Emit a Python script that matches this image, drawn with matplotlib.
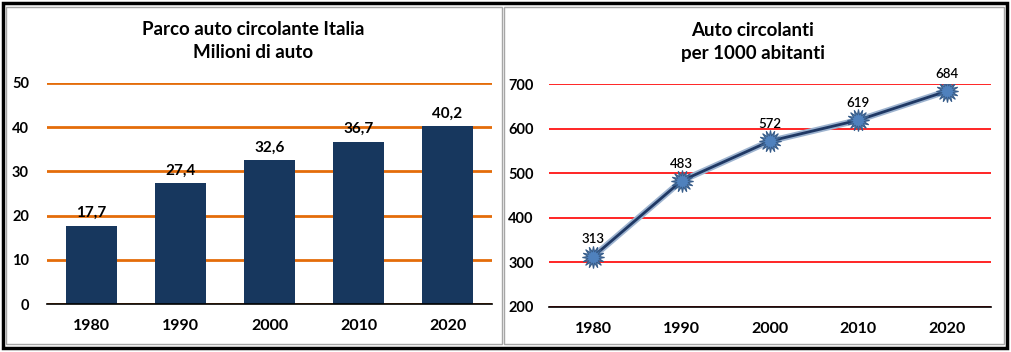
import matplotlib.pyplot as plt
from matplotlib.patches import Rectangle

anni = ["1980", "1990", "2000", "2010", "2020"]
parco_milioni = [17.7, 27.4, 32.6, 36.7, 40.2]
auto_per_1000 = [313, 483, 572, 619, 684]

W, H = 1012, 352
plt.rcParams['font.family'] = ['Lato', 'DejaVu Sans']

fig = plt.figure(figsize=(W / 100, H / 100), dpi=100)
fig.patch.set_facecolor("white")

def px(x0, y0, x1, y1):
    # pixel box (top-left origin) -> figure fraction
    return [x0 / W, 1 - y1 / H, (x1 - x0) / W, (y1 - y0) / H]

# outer black frame and the two grey chart frames
fig.patches.append(Rectangle((3 / W, 1 - 348 / H), 1004 / W, 345 / H, transform=fig.transFigure,
                             fill=False, edgecolor="black", linewidth=2.5))
for x0, x1 in [(6, 502), (504, 1004)]:
    fig.patches.append(Rectangle((x0 / W, 1 - 344 / H), (x1 - x0) / W, 337 / H,
                                 transform=fig.transFigure, fill=False,
                                 edgecolor="#a6a6a6", linewidth=1.0))

# ---- left: bar chart
ax1 = fig.add_axes(px(47, 83, 492, 304))
x = range(len(anni))
ax1.bar(x, parco_milioni, width=0.57, color="#17375e", zorder=3)
ax1.set_ylim(0, 50)
ax1.set_xlim(-0.5, 4.5)
ax1.set_yticks(range(0, 51, 10))
ax1.yaxis.grid(True, color="#e46c0a", linewidth=2, zorder=0)
ax1.set_axisbelow(True)
for s in ["top", "right", "left"]:
    ax1.spines[s].set_visible(False)
ax1.spines["bottom"].set_color("black")
ax1.spines["bottom"].set_linewidth(1.2)
ax1.spines["bottom"].set_zorder(4)
ax1.set_xticks(list(x))
ax1.set_xticklabels(anni, fontsize=11.5, fontweight="bold")
ax1.tick_params(axis="both", length=0)
ax1.tick_params(axis="x", pad=11)
ax1.tick_params(axis="y", pad=13, labelsize=10.5)
for lab in ax1.get_yticklabels():
    lab.set_fontweight("bold")
for i, v in enumerate(parco_milioni):
    ax1.annotate(f"{v:.1f}".replace(".", ","), (i, v), xytext=(0, 4), textcoords="offset points",
                 ha="center", va="bottom", fontsize=11, fontweight="bold", zorder=5)
fig.text(253 / W, 1 - 41 / H, "Parco auto circolante Italia\nMilioni di auto", ha="center", va="center",
         fontsize=13.5, fontweight="bold", linespacing=1.45)

# ---- right: line chart
ax2 = fig.add_axes(px(549, 84, 991, 307))
ax2.plot(list(x), auto_per_1000, color="#9db3cf", linewidth=4.5, zorder=2, solid_capstyle="round")
ax2.plot(list(x), auto_per_1000, color="#1f3864", linewidth=2, zorder=3,
         marker=(16, 1, 0), markersize=16, markerfacecolor="#4f81bd", markeredgecolor="#385d8a",
         markeredgewidth=0.8)
ax2.set_ylim(200, 700)
ax2.set_xlim(-0.5, 4.5)
ax2.set_yticks(range(200, 701, 100))
ax2.yaxis.grid(True, color="#ff0000", linewidth=1.2, zorder=0)
ax2.set_axisbelow(True)
for s in ["top", "right", "left"]:
    ax2.spines[s].set_visible(False)
ax2.spines["bottom"].set_color("black")
ax2.spines["bottom"].set_linewidth(1.2)
ax2.set_xticks(list(x))
ax2.set_xticklabels(anni, fontsize=11.5, fontweight="bold")
ax2.tick_params(axis="both", length=0)
ax2.tick_params(axis="x", pad=11)
ax2.tick_params(axis="y", pad=11, labelsize=10.5)
for lab in ax2.get_yticklabels():
    lab.set_fontweight("bold")
for i, v in enumerate(auto_per_1000):
    ax2.annotate(str(v), (i, v), xytext=(0, 8), textcoords="offset points",
                 ha="center", va="bottom", fontsize=9.5, fontweight="semibold", zorder=5)
fig.text(753 / W, 1 - 42 / H, "Auto circolanti\nper 1000 abitanti", ha="center", va="center",
         fontsize=13.5, fontweight="bold", linespacing=1.45)

fig.savefig("out.png", dpi=100)
